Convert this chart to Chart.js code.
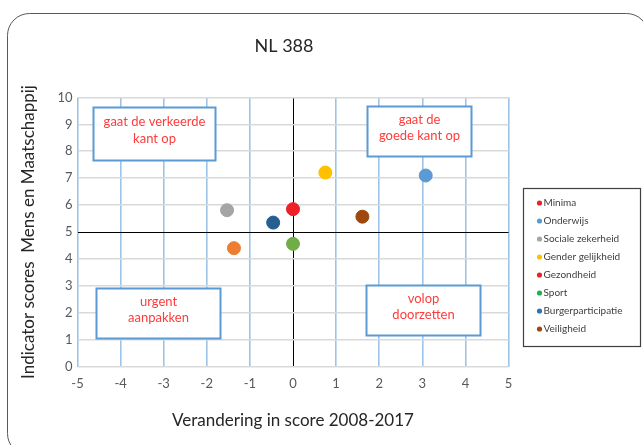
<!DOCTYPE html>
<html>
<head>
<meta charset="utf-8">
<script src="https://cdn.jsdelivr.net/npm/chart.js@4/dist/chart.umd.min.js"></script>
<style>
  html, body { margin: 0; padding: 0; background: #fff; }
</style>
</head>
<body>
<canvas id="chart" width="643" height="445"></canvas>
<script>
// data
const categories = ['Minima', 'Onderwijs', 'Sociale zekerheid', 'Gender gelijkheid', 'Gezondheid', 'Sport', 'Burgerparticipatie', 'Veiligheid'];
const changeValues = [0, 3.08, -1.53, 0.75, -1.37, 0, -0.46, 1.61];
const scoreValues = [5.85, 7.10, 5.81, 7.21, 4.40, 4.56, 5.35, 5.57];
const pointColors = ['#EE2128', '#5B9BD5', '#A5A5A5', '#FFC000', '#ED7D31', '#70AD47', '#255E91', '#9E480E'];
const legendColors = ['#EE2128', '#5B9BD5', '#A5A5A5', '#FFC000', '#EE2128', '#22B04B', '#2E74B5', '#9E480E'];
const xTickValues = [-5, -4, -3, -2, -1, 0, 1, 2, 3, 4, 5];
const yTickValues = [0, 1, 2, 3, 4, 5, 6, 7, 8, 9, 10];

// quadrant labels (in data coordinates)
const quadrants = [
  { lines: ['gaat de verkeerde', 'kant op'], x: [-4.63, -1.8], y: [7.68, 9.65] },
  { lines: ['gaat de', 'goede kant op'], x: [1.72, 4.14], y: [7.83, 9.69] },
  { lines: ['urgent', 'aanpakken'], x: [-4.57, -1.69], y: [1.07, 2.92] },
  { lines: ['volop', 'doorzetten'], x: [1.70, 4.35], y: [1.18, 3.04] }
];

const FONT = 'Lato, "Open Sans", sans-serif';

const datasets = categories.map((name, i) => ({
  label: name,
  data: [{ x: changeValues[i], y: scoreValues[i] }],
  backgroundColor: pointColors[i],
  borderColor: pointColors[i],
  pointRadius: 6.5,
  pointHoverRadius: 6.5
}));

const extras = {
  id: 'extras',
  beforeDraw(chart) {
    const ctx = chart.ctx;
    ctx.save();
    ctx.fillStyle = '#fff';
    ctx.fillRect(0, 0, chart.width, chart.height);
    ctx.restore();
  },
  beforeDatasetsDraw(chart) {
    const ctx = chart.ctx;
    const xs = chart.scales.x, ys = chart.scales.y;
    ctx.save();
    quadrants.forEach(q => {
      const x0 = Math.round(xs.getPixelForValue(q.x[0])) + 0.5;
      const x1 = Math.round(xs.getPixelForValue(q.x[1])) + 0.5;
      const y0 = Math.round(ys.getPixelForValue(q.y[1])) + 0.5;
      const y1 = Math.round(ys.getPixelForValue(q.y[0])) + 0.5;
      ctx.fillStyle = '#fff';
      ctx.fillRect(x0, y0, x1 - x0, y1 - y0);
      ctx.strokeStyle = '#5B9BD5';
      ctx.lineWidth = 2;
      ctx.strokeRect(x0, y0, x1 - x0, y1 - y0);
      ctx.fillStyle = '#FF3B3B';
      ctx.font = '13px ' + FONT;
      ctx.textAlign = 'center';
      ctx.textBaseline = 'middle';
      const cx = (x0 + x1) / 2, cy = (y0 + y1) / 2 - 4;
      ctx.fillText(q.lines[0], cx, cy - 8);
      ctx.fillText(q.lines[1], cx, cy + 8.5);
    });
    ctx.restore();
  },
  afterDraw(chart) {
    const ctx = chart.ctx;
    ctx.save();
    // outer frame
    ctx.strokeStyle = '#595959';
    ctx.lineWidth = 1;
    ctx.beginPath();
    ctx.roundRect(7.5, 13.5, 641, 442, 22);
    ctx.stroke();
    // title
    ctx.fillStyle = '#262626';
    ctx.font = '18px ' + FONT;
    ctx.textAlign = 'center';
    ctx.textBaseline = 'middle';
    ctx.fillText('NL 388', 284, 46);
    // legend
    ctx.strokeStyle = '#404040';
    ctx.lineWidth = 1.2;
    ctx.strokeRect(523.5, 188.5, 117, 158);
    ctx.font = '10px ' + FONT;
    ctx.textAlign = 'left';
    chart.data.datasets.forEach((ds, i) => {
      const y = 203 + i * 18;
      ctx.fillStyle = legendColors[i];
      ctx.beginPath();
      ctx.arc(539.5, y, 2.6, 0, Math.PI * 2);
      ctx.fill();
      ctx.fillStyle = '#404040';
      ctx.fillText(ds.label, 543.5, y);
    });
    ctx.restore();
  }
};

new Chart(document.getElementById('chart'), {
  type: 'scatter',
  data: { datasets },
  options: {
    responsive: false,
    animation: false,
    devicePixelRatio: 1,
    layout: { padding: { left: 0, top: 97.5, right: 134.5, bottom: 0 } },
    plugins: {
      legend: { display: false },
      tooltip: { enabled: false }
    },
    scales: {
      x: {
        type: 'linear',
        min: -5, max: 5,
        afterBuildTicks: s => { s.ticks = xTickValues.map(v => ({ value: v })); },
        afterFit: s => { s.height = 78.5; },
        border: { display: false },
        grid: {
          drawTicks: false,
          color: c => c.tick && c.tick.value === 0 ? '#000000' : '#9DC3E6',
          lineWidth: c => c.tick && c.tick.value === 0 ? 1 : 1.6
        },
        ticks: { padding: 10, color: '#595959', font: { family: FONT, size: 13 } },
        title: {
          display: true,
          text: 'Verandering in score 2008-2017',
          color: '#262626',
          font: { family: FONT, size: 17 },
          padding: { bottom: 14 }
        }
      },
      y: {
        type: 'linear',
        min: 0, max: 10,
        afterBuildTicks: s => { s.ticks = yTickValues.map(v => ({ value: v })); },
        afterFit: s => { s.width = 77.5; },
        border: { display: false },
        grid: {
          drawTicks: false,
          color: c => c.tick && c.tick.value === 5 ? '#000000' : '#D9D9D9',
          lineWidth: c => c.tick && c.tick.value === 5 ? 1 : 1.6
        },
        ticks: { padding: 5, color: '#595959', font: { family: FONT, size: 13 } },
        title: {
          display: true,
          text: 'Indicator scores  Mens en Maatschappij',
          color: '#262626',
          font: { family: FONT, size: 17 },
          padding: { top: 18 }
        }
      }
    }
  },
  plugins: [extras]
});
</script>
</body>
</html>
